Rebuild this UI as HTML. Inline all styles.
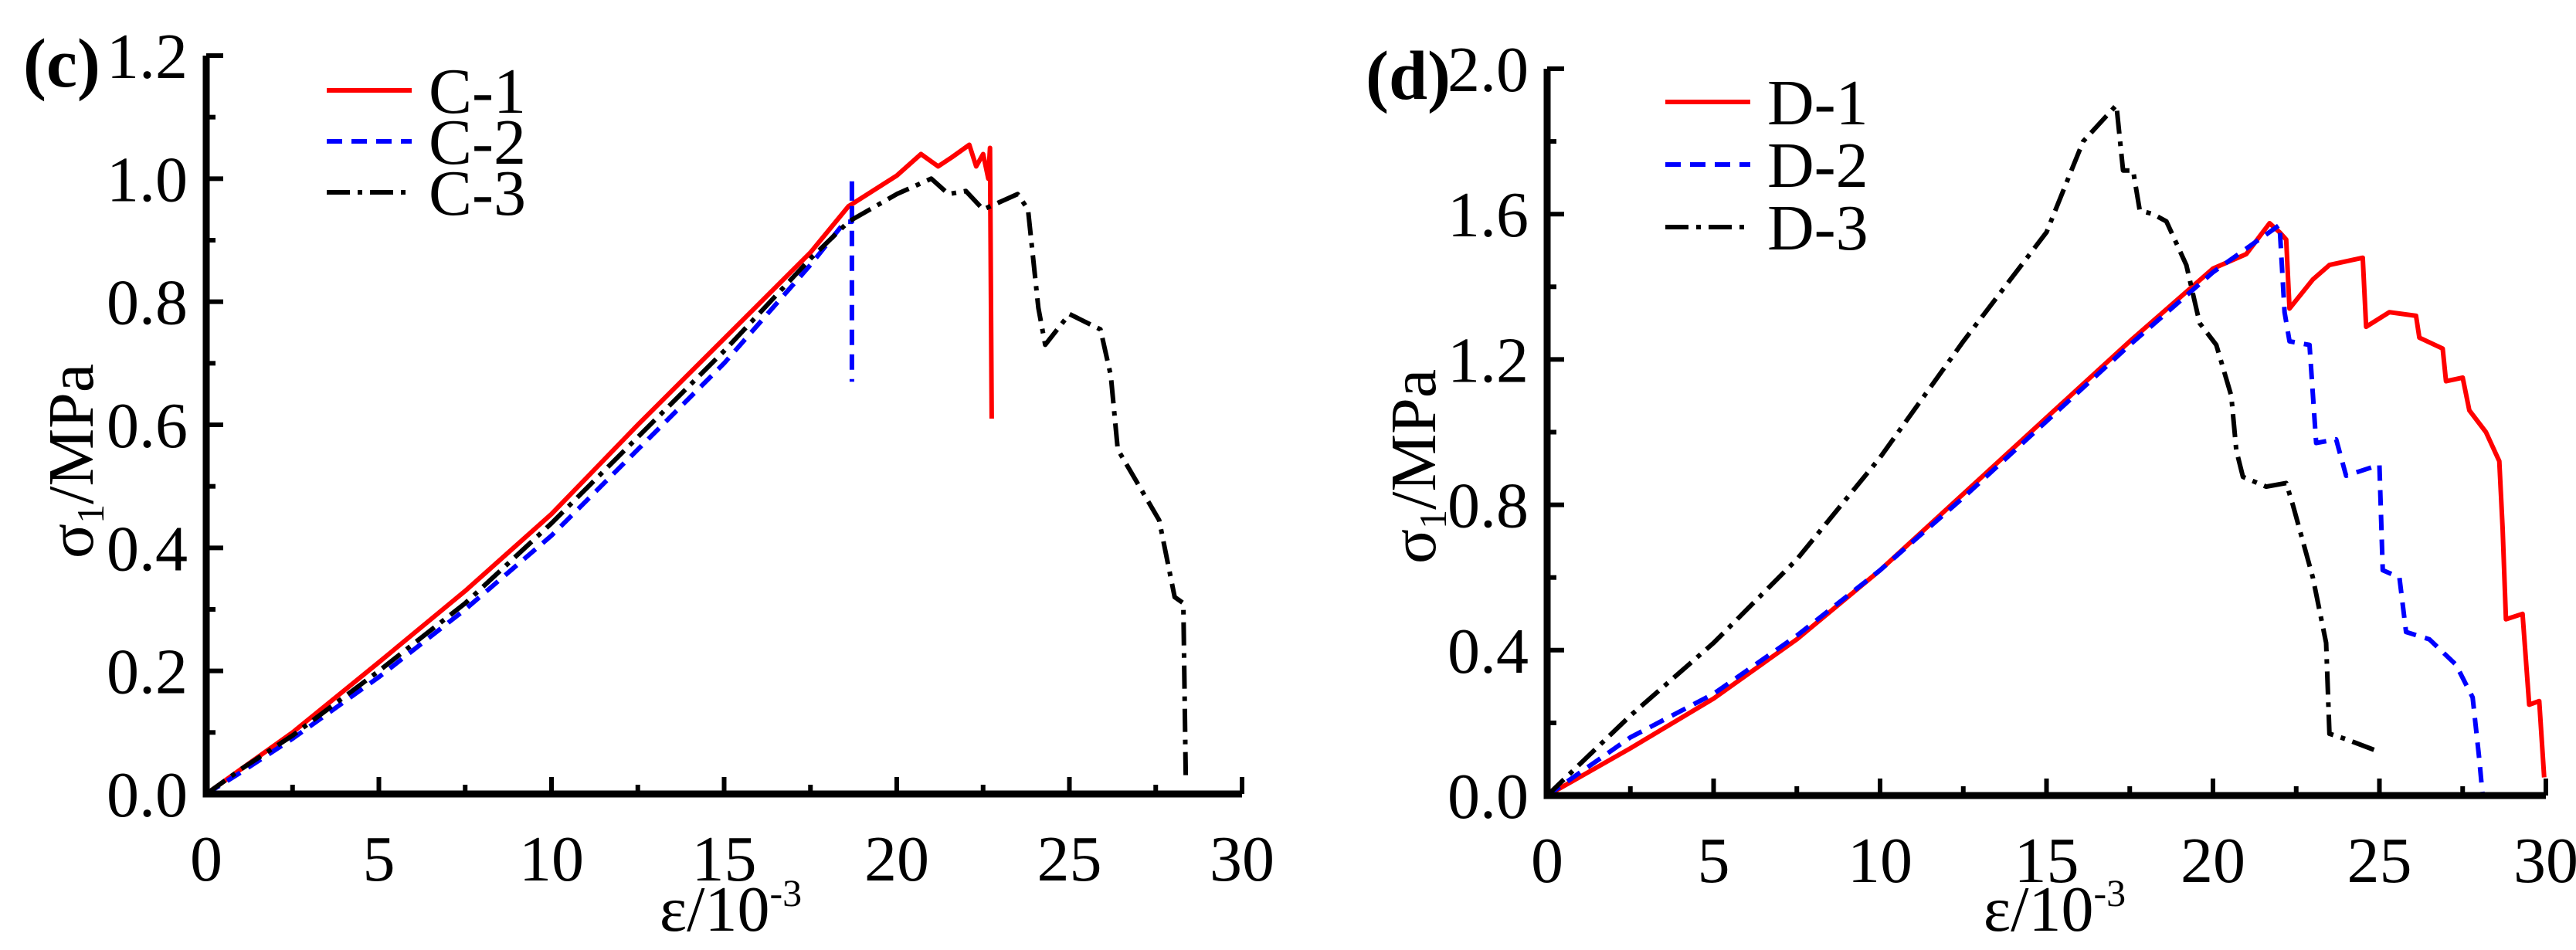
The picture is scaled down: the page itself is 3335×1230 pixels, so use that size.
<!DOCTYPE html>
<html><head><meta charset="utf-8"><style>
html,body{margin:0;padding:0;background:#fff;}
svg{display:block;font-family:"Liberation Serif",serif;}
</style></head><body>
<svg id="chart" width="3335" height="1230" viewBox="0 0 3335 1230" xmlns="http://www.w3.org/2000/svg"></svg>
<script>
const NS="http://www.w3.org/2000/svg";
const svg=document.getElementById('chart');
// ---- Data panel C ----
const c1x=[0,1,2.5,5,7.5,10,12.5,15,17.5,18.6,20,20.7,21.2,21.6,22.1,22.3,22.5,22.65,22.7,22.75];
const c1y=[0,0.04,0.1,0.214,0.33,0.455,0.6,0.74,0.88,0.955,1.005,1.04,1.02,1.035,1.055,1.02,1.04,1.0,1.05,0.61];
const c2x=[0,1,2.5,5,7.5,10,12.5,15,17.5,18.5,18.7,18.7,18.7];
const c2y=[0,0.035,0.09,0.19,0.3,0.42,0.56,0.7,0.86,0.93,0.93,1.0,0.67];
const c3x=[0,1,2.5,5,7.5,10,12.5,15,17.5,18.6,20,21,21.5,22,22.5,23.5,23.8,24.1,24.3,25,25.9,26.2,26.4,27.6,28.05,28.3,28.37];
const c3y=[0,0.04,0.095,0.2,0.31,0.44,0.58,0.72,0.87,0.93,0.975,1.0,0.975,0.98,0.95,0.975,0.95,0.79,0.73,0.78,0.755,0.68,0.56,0.445,0.32,0.31,0.03];
// ---- Data panel D ----
const d1x=[0,2.5,5,7.5,10,12.5,15,17.5,20,21,21.7,22,22.2,22.3,23,23.5,24.5,24.6,25.3,26.1,26.2,26.9,27.0,27.5,27.7,28.2,28.6,28.7,28.8,29.3,29.5,29.8,29.95];
const d1y=[0,0.13,0.267,0.43,0.62,0.83,1.04,1.25,1.45,1.49,1.575,1.55,1.53,1.34,1.42,1.46,1.48,1.29,1.33,1.32,1.26,1.23,1.14,1.15,1.06,1.0,0.92,0.735,0.485,0.5,0.25,0.26,0.05];
const d2x=[0,2.5,5,7.5,10,12.5,15,17.5,20,22,22.15,22.3,22.9,23.1,23.7,24,25,25.1,25.6,25.8,26.5,27.3,27.8,28.0,28.1];
const d2y=[0,0.16,0.28,0.44,0.62,0.82,1.03,1.24,1.44,1.57,1.33,1.25,1.24,0.97,0.98,0.88,0.91,0.62,0.6,0.45,0.43,0.36,0.27,0.1,0.0];
const d3x=[0,2.5,5,7.5,10,12.5,15,16.1,17.1,17.3,17.6,17.8,18.2,18.6,19.2,19.6,20.1,20.55,20.7,20.9,21.6,22.2,22.4,23,23.4,23.5,24,25];
const d3y=[0,0.22,0.42,0.65,0.93,1.25,1.55,1.8,1.9,1.72,1.72,1.61,1.6,1.58,1.46,1.3,1.24,1.1,0.95,0.877,0.85,0.86,0.8,0.6,0.42,0.17,0.155,0.12];
const xTicks=[0,5,10,15,20,25,30];
const cYTicks=[0.0,0.2,0.4,0.6,0.8,1.0,1.2];
const dYTicks=[0.0,0.4,0.8,1.2,1.6,2.0];

function el(tag,attrs,parent){const e=document.createElementNS(NS,tag);for(const k in attrs)e.setAttribute(k,attrs[k]);(parent||svg).appendChild(e);return e;}

function panel(cfg){
  const g=el('g',{});
  
  
  const X=v=>cfg.x0+(v-0)/30*(cfg.x1-cfg.x0);
  const Y=v=>cfg.y0-(v/cfg.ymax)*(cfg.y0-cfg.y1);
  cfg.series.forEach(s=>{
    const p=el('polyline',{points:s.x.map((v,i)=>X(v).toFixed(1)+','+Y(s.y[i]).toFixed(1)).join(' '),fill:'none',stroke:s.color,'stroke-width':6,'stroke-dasharray':s.dash,'stroke-linejoin':'round'},g);
    
    
  });
  const ax=el('path',{d:`M${cfg.x0},${cfg.y1} V${cfg.y0} H${cfg.x1}`,fill:'none',stroke:'#000','stroke-width':9},g);
  
  
  for(let v=0;v<=30;v+=2.5){const maj=v%5===0;el('line',{x1:X(v),x2:X(v),y1:cfg.y0,y2:cfg.y0-(maj?22:12),stroke:'#000','stroke-width':6},g);}
  xTicks.forEach(v=>{const t=el('text',{x:X(v),y:cfg.y0+112,'font-size':84,'text-anchor':'middle'},g);t.textContent=v;
    
    });
  const step=cfg.yTicks[1]-cfg.yTicks[0];
  for(let i=0;i<=Math.round(cfg.ymax/(step/2));i++){const v=i*step/2;const maj=i%2===0;el('line',{x1:cfg.x0,x2:cfg.x0+(maj?22:12),y1:Y(v),y2:Y(v),stroke:'#000','stroke-width':6},g);}
  cfg.yTicks.forEach(v=>{const t=el('text',{x:cfg.x0-24,y:Y(v)+29,'font-size':84,'text-anchor':'end'},g);t.textContent=v.toFixed(1);
    
    });
  const xt=el('text',{x:cfg.xtx,y:1205,'font-size':84,'text-anchor':'middle'},g);
  xt.innerHTML='ε/10<tspan dy="-32" font-size="50">-3</tspan>';
  
  
  const yt=el('text',{x:0,y:0,'font-size':84,'text-anchor':'middle',transform:`translate(${cfg.ytx},${cfg.yty}) rotate(-90)`},g);
  yt.innerHTML='σ<tspan dy="14" font-size="50">1</tspan><tspan dy="-14">/MPa</tspan>';
  
  
  const pl=el('text',{x:cfg.plx,y:cfg.ply,'font-size':90,'font-weight':'bold'},g);
  pl.textContent=cfg.plabel;
  
  
  cfg.series.forEach((s,i)=>{
    const ly=cfg.ly[i];
    const lg=el('g',{},g);
    
    
    el('line',{x1:cfg.lx0,x2:cfg.lx1,y1:ly,y2:ly,stroke:s.color,'stroke-width':6,'stroke-dasharray':s.dash},lg);
    const t=el('text',{x:cfg.lx1+22,y:ly+29,'font-size':84},lg);t.textContent=s.label;
  });
}
panel({name:'panel-c',x0:267,x1:1608,y0:1028,y1:72,ymax:1.2,yTicks:cYTicks,xtx:946,ytx:120,yty:597,plabel:'(c)',plx:30,ply:112,
  lx0:423,lx1:533,ly:[117,183,249],
  series:[{label:'C-1',x:c1x,y:c1y,color:'#ff0000',dash:'none'},{label:'C-2',x:c2x,y:c2y,color:'#0000ff',dash:'20 12'},{label:'C-3',x:c3x,y:c3y,color:'#000',dash:'30 10 6 10'}]});
panel({name:'panel-d',x0:2003,x1:3296,y0:1030,y1:89,ymax:2.0,yTicks:dYTicks,xtx:2660,ytx:1858,yty:604,plabel:'(d)',plx:1768,ply:128,
  lx0:2156,lx1:2266,ly:[132,213,294],
  series:[{label:'D-1',x:d1x,y:d1y,color:'#ff0000',dash:'none'},{label:'D-2',x:d2x,y:d2y,color:'#0000ff',dash:'20 12'},{label:'D-3',x:d3x,y:d3y,color:'#000',dash:'30 10 6 10'}]});
</script>
</body></html>
